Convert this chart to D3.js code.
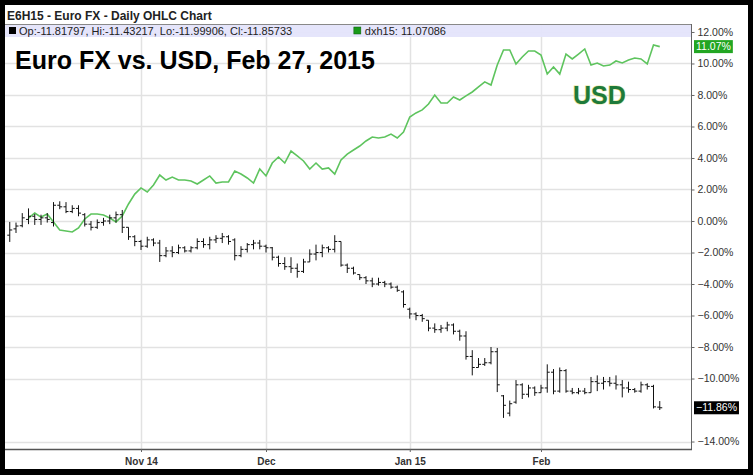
<!DOCTYPE html>
<html><head><meta charset="utf-8">
<script src="https://cdn.jsdelivr.net/npm/d3@7"></script>
<style>body{margin:0;background:#000}svg{display:block}</style>
</head><body><svg id="c" width="753" height="475"></svg>
<script>
// ---- data (percent change), one trading day per entry ----
const opens  = [-0.9,-0.5,-0.3,0.1,0.3,0.1,0.2,-0.1,1.0,0.9,0.6,0.8,0.4,-0.2,-0.4,-0.1,0.0,0.2,0.4,-0.4,-1.0,-1.3,-1.6,-1.2,-1.4,-2.2,-1.9,-2.0,-1.7,-1.9,-1.7,-1.3,-1.5,-1.2,-1.1,-1.0,-1.2,-2.2,-1.8,-1.5,-1.4,-1.6,-1.7,-2.3,-2.7,-2.9,-3.0,-3.2,-2.6,-2.1,-2.0,-1.7,-1.8,-1.3,-2.8,-3.0,-3.4,-3.6,-3.8,-4.0,-3.9,-4.0,-4.2,-4.5,-5.6,-5.9,-6.0,-6.3,-6.8,-6.9,-6.8,-6.6,-7.0,-7.3,-8.6,-9.3,-9.1,-9.0,-8.3,-11.1,-12.2,-11.5,-10.4,-11.0,-10.6,-10.9,-10.6,-9.6,-10.8,-9.5,-10.8,-10.9,-10.8,-10.9,-10.2,-10.3,-10.2,-10.3,-10.4,-10.6,-10.7,-10.8,-10.4,-10.5,-11.81797];
const highs  = [-0.06,-0.1,0.5,0.8,0.45,0.4,0.5,1.2,1.25,1.2,1.0,1.0,0.5,0.0,0.1,0.2,0.4,0.6,0.7,-0.4,-0.9,-1.2,-1.0,-1.1,-1.2,-1.65,-1.6,-1.5,-1.6,-1.6,-1.1,-1.1,-1.0,-0.9,-0.76,-0.9,-1.1,-1.6,-1.4,-1.2,-1.2,-1.5,-1.65,-2.2,-2.3,-2.3,-2.7,-2.4,-1.8,-1.5,-1.5,-1.6,-0.9,-1.3,-2.7,-2.9,-3.4,-3.5,-3.6,-3.6,-3.8,-3.9,-4.1,-4.4,-5.5,-5.8,-5.9,-6.3,-6.5,-6.6,-6.4,-6.5,-6.9,-7.0,-8.2,-8.7,-8.7,-8.0,-8.06,-11.05,-11.4,-10.1,-10.3,-10.4,-10.5,-10.4,-9.1,-9.4,-9.3,-9.4,-10.6,-10.6,-10.6,-9.9,-9.8,-9.9,-9.9,-9.8,-10.1,-10.2,-10.6,-10.2,-10.3,-10.4,-11.43217];
const lows   = [-1.33,-0.76,-0.4,-0.2,-0.25,-0.25,-0.1,-0.35,0.75,0.5,0.5,0.3,-0.35,-0.6,-0.5,-0.3,-0.2,-0.1,-0.76,-1.2,-1.6,-1.84,-1.7,-1.6,-2.6,-2.3,-2.3,-2.1,-2.0,-2.0,-1.8,-1.7,-1.8,-1.4,-1.4,-1.5,-2.5,-2.3,-2.0,-1.8,-1.8,-2.0,-2.5,-2.9,-3.1,-3.3,-3.6,-3.3,-2.6,-2.5,-2.3,-2.0,-2.0,-2.9,-3.3,-3.4,-3.75,-4.0,-4.2,-4.1,-4.2,-4.3,-4.5,-5.5,-6.2,-6.3,-6.4,-7.0,-7.1,-7.1,-7.0,-7.2,-7.6,-8.8,-9.8,-9.3,-9.2,-9.1,-10.86,-12.5,-12.4,-11.6,-11.3,-11.2,-11.1,-10.9,-10.9,-11.0,-10.9,-10.9,-11.0,-11.0,-11.0,-10.9,-10.8,-10.7,-10.5,-10.7,-11.2,-10.9,-10.9,-10.9,-10.7,-11.9,-11.99906];
const closes = [-0.57,-0.32,0.2,0.3,0.1,0.2,0.1,1.0,0.9,0.6,0.8,0.5,-0.2,-0.4,-0.1,0.0,0.2,0.4,-0.4,-1.0,-1.3,-1.6,-1.2,-1.4,-2.2,-1.9,-2.0,-1.7,-1.9,-1.7,-1.3,-1.5,-1.2,-1.1,-1.0,-1.3,-2.2,-1.8,-1.5,-1.4,-1.6,-1.7,-2.3,-2.7,-2.9,-3.0,-3.2,-2.6,-2.1,-2.0,-1.7,-1.8,-1.3,-2.8,-3.0,-3.3,-3.6,-3.8,-4.0,-3.9,-4.0,-4.2,-4.4,-5.3,-5.9,-6.0,-6.2,-6.8,-6.9,-6.8,-6.6,-7.0,-7.3,-8.6,-9.3,-9.1,-9.0,-8.3,-10.4,-11.7,-11.6,-10.4,-11.0,-10.6,-10.9,-10.6,-9.6,-10.8,-9.5,-10.8,-10.9,-10.8,-10.9,-10.2,-10.3,-10.2,-10.3,-10.4,-10.6,-10.7,-10.8,-10.4,-10.5,-11.8,-11.85733];
const usd = [null,null,null,0.19,0.51,0.25,0.44,-0.06,-0.57,-0.63,-0.70,-0.44,0.13,0.44,0.44,0.38,0.19,-0.06,0.32,1.08,1.71,2.10,1.84,2.29,2.92,2.60,2.79,2.60,2.60,2.54,2.35,2.60,2.86,2.41,2.48,2.48,3.17,2.98,2.73,2.41,3.30,2.86,3.68,4.06,3.68,4.44,4.13,3.81,3.30,3.68,3.30,3.37,2.98,3.87,4.25,4.51,4.76,5.08,5.33,5.27,5.33,5.52,5.27,5.65,6.60,6.86,7.05,7.43,8.00,7.49,7.49,7.87,7.68,7.94,8.19,8.51,8.83,8.63,9.90,10.86,10.86,9.97,10.41,10.79,10.79,10.54,9.33,9.78,9.33,10.60,10.29,10.60,10.92,9.90,10.03,9.84,9.90,10.16,10.03,10.22,10.35,10.29,9.97,11.17,11.07086];
const xTickIdx = [21, 41, 64, 85];
const xTickLabels = ["Nov 14", "Dec", "Jan 15", "Feb"];
const yTicks = [12,10,8,6,4,2,0,-2,-4,-6,-8,-10,-14];
const lastEuro = -11.85733, lastUsd = 11.07086;

const svg = d3.select("#c");
const FONT = "Liberation Sans, Arial, sans-serif";
const L = 5, R = 691, T = 24, B = 449;
const x = d3.scaleLinear().domain([0, 104]).range([9.75, 659.75]);
const y = d3.scaleLinear().domain([-14.5, 12.5]).range([449.4, 24.1]);

// frame
svg.append("rect").attr("x",5).attr("y",5).attr("width",743).attr("height",464).attr("fill","#fff");

// title
svg.append("text").attr("x",7).attr("y",19.5).attr("font-family",FONT).attr("font-weight","bold")
  .attr("font-size",12).attr("fill","#222").text("E6H15 - Euro FX - Daily OHLC Chart");

// grid
const g = svg.append("g");
g.selectAll("line.h").data(yTicks).join("line")
  .attr("x1",L).attr("x2",R).attr("y1",d=>Math.round(y(d))+0.5).attr("y2",d=>Math.round(y(d))+0.5)
  .attr("stroke","#e2e2e2").attr("stroke-width",1.5);
g.selectAll("line.v").data(xTickIdx).join("line")
  .attr("x1",d=>Math.round(x(d))+0.5).attr("x2",d=>Math.round(x(d))+0.5).attr("y1",T).attr("y2",B)
  .attr("stroke","#e2e2e2").attr("stroke-width",1.5);

// legend strip
svg.append("rect").attr("x",L).attr("y",T).attr("width",R-L).attr("height",13).attr("fill","#e4e4fb").attr("opacity",0.95);
svg.append("line").attr("x1",L).attr("x2",R).attr("y1",T+0.5).attr("y2",T+0.5).attr("stroke","#888");
svg.append("rect").attr("x",9).attr("y",27).attr("width",7).attr("height",7).attr("fill","#000");
svg.append("text").attr("x",19).attr("y",34.8).attr("font-family",FONT).attr("font-size",11).attr("fill","#222")
  .text("Op:-11.81797, Hi:-11.43217, Lo:-11.99906, Cl:-11.85733");
const lt = svg.append("text").attr("x",446).attr("y",34.8).attr("text-anchor","end").attr("font-family",FONT)
  .attr("font-size",11).attr("fill","#222").text("dxh15: 11.07086");
const ltx = 446 - lt.node().getComputedTextLength();
svg.append("rect").attr("x",ltx-11).attr("y",27).attr("width",7).attr("height",7).attr("fill","#1a9a1a").attr("stroke","#0a5a0a").attr("stroke-width",0.5);

// usd line
const line = d3.line().defined(d => d !== null).x((d,i)=>x(i)).y(d=>y(d));
svg.append("path").datum(usd).attr("d",line).attr("fill","none").attr("stroke","#5ec45e").attr("stroke-width",1.6);

// OHLC bars
const bars = svg.append("g").attr("stroke","#111").attr("stroke-width",1);
closes.forEach((c,i) => {
  const cx = x(i);
  bars.append("line").attr("x1",cx).attr("x2",cx).attr("y1",y(highs[i])).attr("y2",y(lows[i]));
  bars.append("line").attr("x1",cx-2.5).attr("x2",cx).attr("y1",y(opens[i])).attr("y2",y(opens[i]));
  bars.append("line").attr("x1",cx).attr("x2",cx+2.5).attr("y1",y(c)).attr("y2",y(c));
});

// axes lines
svg.append("line").attr("x1",R+0.5).attr("x2",R+0.5).attr("y1",T).attr("y2",B+1).attr("stroke","#666");
svg.append("line").attr("x1",L).attr("x2",R+1).attr("y1",B+0.5).attr("y2",B+0.5).attr("stroke","#555").attr("stroke-width",1.5);

// y axis ticks + labels
const yAxis = d3.axisRight(y).tickValues(yTicks).tickSize(3).tickPadding(3)
  .tickFormat(d => (d < 0 ? "\u2212" + Math.abs(d).toFixed(2) : d.toFixed(2)) + "%");
const ya = svg.append("g").attr("transform",`translate(${R+0.5},0)`).call(yAxis);
ya.select(".domain").remove();
ya.selectAll("line").attr("stroke","#666");
ya.selectAll("text").attr("font-family",FONT).attr("font-size",10.5).attr("fill","#333");

// x axis
const xAxis = d3.axisBottom(x).tickValues(xTickIdx).tickSize(3).tickPadding(6).tickFormat((d,i)=>xTickLabels[i]);
const xa = svg.append("g").attr("transform",`translate(0,${B})`).call(xAxis);
xa.select(".domain").remove();
xa.selectAll("line").attr("stroke","#666");
xa.selectAll("text").attr("font-family",FONT).attr("font-size",10).attr("font-weight","bold").attr("fill","#333");

// last-value boxes
function tag(v, txt, bg){
  const yy = y(v);
  const t = svg.append("text").attr("x",696).attr("y",yy).attr("dy","0.35em").attr("font-family",FONT)
    .attr("font-size",10.5).attr("fill","#fff").text(txt);
  const w = t.node().getComputedTextLength();
  svg.insert("rect", () => t.node()).attr("x",694).attr("y",yy-6.5).attr("width",w+4).attr("height",13).attr("fill",bg);
}
tag(lastUsd, "11.07%", "#22a622");
tag(lastEuro, "\u221211.86%", "#000");

// annotations
svg.append("text").attr("x",15).attr("y",69).attr("font-family",FONT).attr("font-weight","bold")
  .attr("font-size",25).attr("fill","#000").text("Euro FX vs. USD, Feb 27, 2015");
svg.append("text").attr("x",573).attr("y",104).attr("font-family",FONT).attr("font-weight","bold")
  .attr("font-size",25).attr("fill","#1e7a3a").attr("stroke","#e8e6a0").attr("stroke-width",1.2)
  .attr("paint-order","stroke").text("USD");
</script></body></html>
